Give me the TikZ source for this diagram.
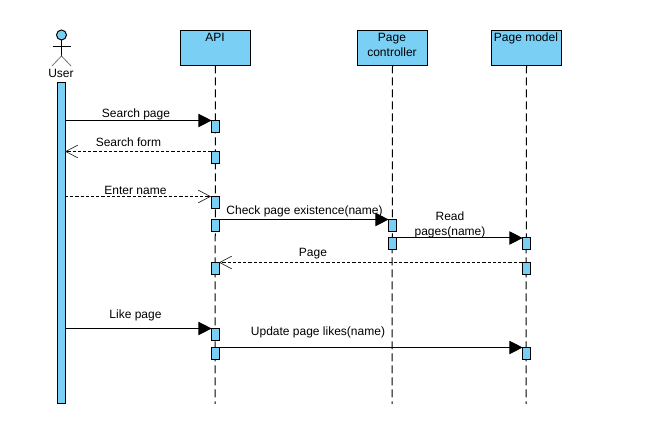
\documentclass[tikz,border=0pt]{standalone}
\usepackage{fontspec}
\setmainfont{Liberation Sans}
\usetikzlibrary{arrows.meta}
\definecolor{fillblue}{HTML}{7ACFF5}
\tikzset{
  px/.style={x=0.75pt,y=-0.75pt},
  box/.style={draw=black,fill=fillblue,line width=0.75pt,minimum width=52.5pt,minimum height=26.25pt,inner sep=0pt,outer sep=0pt,anchor=north west},
  act/.style={draw=black,fill=fillblue,line width=0.75pt,minimum width=6pt,minimum height=9pt,inner sep=0pt,outer sep=0pt,anchor=north},
  life/.style={line width=0.75pt,draw=black,dash pattern=on 6pt off 3pt},
  txt/.style={font=\fontsize{9}{11}\selectfont,inner sep=0pt,align=center,text=black},
  syncm/.style={line width=0.75pt,shorten >=-0.5pt,-{Triangle[length=10pt,width=10pt,fill=black]}},
  retm/.style={line width=0.6pt,dash pattern=on 2.4pt off 1.5pt,-{Straight Barb[length=9pt,width=9.5pt,line width=0.5pt,color=black!85]}},
  figline/.style={line width=0.75pt,draw=black},
  figgray/.style={line width=0.6pt,draw=black!55}
}
\begin{document}
\begin{tikzpicture}[px]
\useasboundingbox (0,0) rectangle (647,448);
% lifelines
\coordinate (apiend) at (215,404);
\coordinate (pcend) at (392,404);
\coordinate (pmend) at (526,404);
\node[box] (api) at (180.5,30.5) {};
\node[box] (pc) at (357.5,30.5) {};
\node[box] (pm) at (491.5,30.5) {};
\node[txt] (apit) at (215,37) {API};
\node[txt] (pct) at (392,45) {Page\\controller};
\node[txt] (pmt) at (526,38) {Page model};
\draw[life] (api.south) -- (apiend);
\draw[life] (pc.south) -- (pcend);
\draw[life] (pm.south) -- (pmend);
% actor
\node[draw=black,fill=fillblue,line width=0.75pt,circle,minimum size=7.5pt,inner sep=0pt,outer sep=0pt] (head) at (61.5,35) {};
\coordinate (hip) at (61.5,56);
\coordinate (armL) at (52.5,46.5);
\coordinate (armR) at (70.5,46.5);
\coordinate (legL) at (52,66);
\coordinate (legR) at (71,66);
\draw[figline] (head.south) -- (hip);
\draw[figline] (armL) -- (armR);
\draw[figgray] (legL) -- (hip) -- (legR);
\node[txt] (usert) at (61,73) {User};
\node[draw=black,fill=fillblue,line width=0.75pt,minimum width=6pt,minimum height=240.75pt,inner sep=0pt,outer sep=0pt,anchor=north] (ubar) at (61,82.5) {};
% activations
\node[act] (a1) at (215,120.5) {};
\node[act] (a2) at (215,151.5) {};
\node[act] (a3) at (215,196.5) {};
\node[act] (a4) at (215,219.5) {};
\node[act] (a5) at (215,262.5) {};
\node[act] (a6) at (215,328.5) {};
\node[act] (a7) at (215,347.5) {};
\node[act] (c1) at (392,219.5) {};
\node[act] (c2) at (392,238) {};
\node[act] (m1) at (526,238) {};
\node[act] (m2) at (526,262.5) {};
\node[act] (m3) at (526,347.5) {};
% messages
\draw[syncm] (ubar.east |- a1.north) -- (a1.north west);
\draw[retm] (a2.north west) -- (ubar.east |- a2.north);
\draw[retm] (ubar.east |- a3.north) -- (a3.north west);
\draw[syncm] (a4.north east) -- (c1.north west);
\draw[syncm] (c2.north east) -- (m1.north west);
\draw[retm] (m2.north west) -- (a5.north east);
\draw[syncm] (ubar.east |- a6.north) -- (a6.north west);
\draw[syncm] (a7.north east) -- (m3.north west);
% labels
\node[txt] (l1) at (136,114) {Search page};
\node[txt] (l2) at (128.5,142) {Search form};
\node[txt] (l3) at (135.5,190) {Enter name};
\node[txt] (l4) at (304.5,211) {Check page existence(name)};
\node[txt] (l5) at (450,225) {Read\\pages(name)};
\node[txt] (l6) at (313,254) {Page};
\node[txt] (l7) at (135.5,315) {Like page};
\node[txt] (l8) at (318,332) {Update page likes(name)};
\end{tikzpicture}
\end{document}
